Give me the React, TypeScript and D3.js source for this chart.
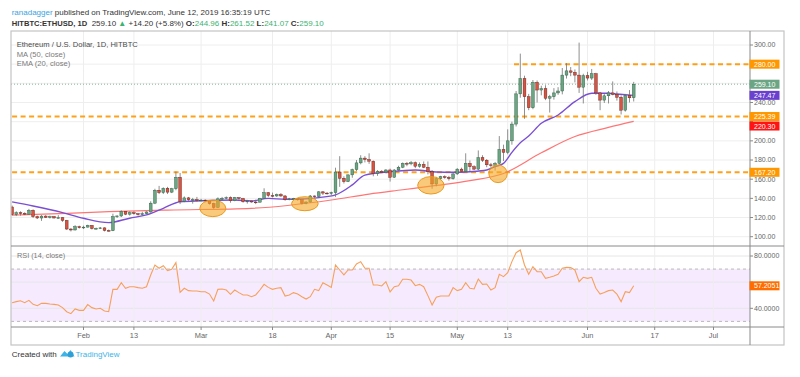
import React from "react";
import * as d3 from "d3";

// ---------- DATA ----------
const START_DATE = "2019-01-15";

const opens = [
  131, 123, 125, 124.5, 123.5, 127.5, 121, 119.5, 121.5, 120,
  121, 119.5, 119.8, 117, 108, 107, 110.5, 109.3, 110, 111.8,
  108.5, 108.7, 109.2, 106.5, 106.2, 121, 121.6, 126.5, 123.5, 125,
  124, 123, 124, 125.8, 135, 148.5, 146, 150.5, 146.5, 150,
  162, 137, 140.5, 138.5, 138.8, 137.5, 138.2, 137.6, 134.5, 130.5,
  139.5, 140, 140.8, 137.5, 140.8, 139.8, 136.5, 137.2, 136.2, 136,
  140, 146, 143, 142.5, 144, 142.5, 138.8, 139.5, 139.8, 138.5,
  135, 136.2, 142.5, 141.8, 146.8, 145.5, 145.2, 146, 167.5, 161,
  157.5, 164.5, 170, 177, 182, 180.5, 178.8, 166, 168, 167.5,
  169.6, 162, 169.6, 172.5, 176.5, 176, 177.2, 173.5, 175.5, 172.5,
  167.8, 155, 160.5, 162.5, 162, 160.5, 165.5, 170.5, 168, 176.5,
  173, 170.5, 182.5, 179.8, 175, 174.5, 176.5, 191, 188, 200,
  217.5, 249, 265, 246, 234.5, 261, 253, 254.5, 244.5, 246,
  250, 252, 268.6, 273, 271.5, 268.6, 256, 268, 265.5, 270,
  250, 242.5, 247, 250, 248.5, 245.5, 232, 247.5, 244.96,
];
const highs = [
  132.5, 126.5, 126.5, 125.5, 129, 128.5, 122, 122.5, 122.5, 122,
  121.5, 122.5, 120.5, 117.5, 109, 112, 111.5, 111.5, 112.5, 112,
  109.5, 110, 109.8, 107.5, 124, 122.5, 127.5, 126.8, 126.5, 126.5,
  124.8, 126, 126.5, 137, 150, 153, 151.5, 152, 151, 168,
  166.5, 142, 141.5, 140.5, 141.5, 139.5, 138.8, 138, 135.5, 141,
  141.5, 142, 142, 141.5, 141, 140.5, 138.5, 137.8, 138.5, 140.5,
  150.5, 146.5, 146, 145, 145.5, 143.5, 140.5, 140.5, 140, 139,
  137, 143.5, 143, 147.5, 147.5, 146.5, 147, 172, 184, 163,
  165, 171, 180, 185, 184, 187, 179.5, 169.5, 169.5, 170.5,
  171, 170.5, 174, 177.5, 178, 179, 178.5, 177.5, 178.5, 178.5,
  169.6, 162.5, 163.5, 164, 163.5, 166.5, 171.5, 172, 187, 179.5,
  174.5, 190, 185, 181, 177, 178, 205, 196, 212, 220,
  252, 291, 268, 249, 263.5, 263, 257.5, 258, 248, 255,
  256, 276, 281, 277, 274.5, 302.5, 270, 272, 275, 271,
  251, 249, 252, 262, 251.5, 247.5, 249, 253, 261.52,
];
const lows = [
  122, 121.5, 122, 122.5, 123, 119.5, 118.5, 116.5, 119.5, 119,
  119, 119, 115.5, 107, 105.5, 106.5, 108.5, 108, 109.5, 107.5,
  107.5, 108, 105.5, 105.5, 105.8, 119.5, 120.5, 122.5, 122, 123,
  122, 122.5, 123.5, 125, 134, 144.5, 144.5, 144.5, 145.5, 148.5,
  134, 136, 137, 134.5, 136.5, 137, 136, 133.5, 129, 130,
  137.5, 139, 135.5, 137, 138.5, 135.5, 134.5, 135.5, 134, 135.8,
  139.5, 141.5, 141, 141.5, 141.5, 137.5, 138, 138.5, 137.5, 133.5,
  133.8, 135.5, 140.5, 141, 143.5, 144, 143.5, 141.5, 152, 155.5,
  157, 161.5, 168.5, 175.5, 177.5, 176, 163, 163.5, 166.5, 166,
  157.5, 161.5, 168.5, 171.5, 173.5, 174.5, 171.5, 172, 171.5, 165,
  150, 152.5, 159, 160.5, 158.5, 159.5, 164.5, 167, 167.5, 168.5,
  169.5, 169.5, 178, 172.5, 172, 169, 175.5, 179, 186, 196,
  215, 245, 223, 232, 233, 240, 247.5, 242.5, 229.5, 243,
  248, 248.5, 265, 267.5, 261, 250, 239, 263, 263.5, 248,
  232, 239.5, 239, 247.5, 242, 227.5, 230.5, 240, 241.07,
];
const closes = [
  123, 125, 124.5, 123.5, 127.5, 121, 119.5, 121.5, 120, 121,
  119.5, 119.8, 117, 108, 107, 110.5, 109.3, 110, 111.8, 108.5,
  108.7, 109.2, 106.5, 106.2, 121, 121.6, 126.5, 123.5, 125, 124,
  123, 124, 125.8, 135, 148.5, 146, 150.5, 146.5, 150, 162,
  137, 140.5, 138.5, 138.8, 137.5, 138.2, 137.6, 134.5, 130.5, 139.5,
  140, 140.8, 137.5, 140.8, 139.8, 136.5, 137.2, 136.2, 136, 140,
  146, 143, 142.5, 144, 142.5, 138.8, 139.5, 139.8, 138.5, 135,
  136.2, 142.5, 141.8, 146.8, 145.5, 145.2, 146, 167.5, 161, 157.5,
  164.5, 170, 177, 182, 180.5, 178.8, 166, 168, 167.5, 169.6,
  162, 169.6, 172.5, 176.5, 176, 177.2, 173.5, 175.5, 172.5, 167.8,
  155, 160.5, 162.5, 162, 160.5, 165.5, 170.5, 168, 176.5, 173,
  170.5, 182.5, 179.8, 175, 174.5, 176.5, 191, 188, 200, 217.5,
  249, 265, 246, 234.5, 261, 253, 254.5, 244.5, 246, 250,
  252, 268.6, 273, 271.5, 268.6, 256, 268, 265.5, 270, 250,
  242.5, 247, 250, 248.5, 245.5, 232, 247.5, 244.9, 259.1,
];
const rsiValues = [
  44.3, 45.1, 45.8, 44.3, 46.1, 43.0, 42.0, 43.8, 43.8, 43.3,
  43.0, 42.5, 40.5, 37.4, 35.9, 39.5, 38.4, 38.4, 42.8, 40.5,
  39.5, 40.0, 37.9, 37.4, 54.5, 54.5, 59.6, 55.3, 56.5, 56.5,
  55.8, 55.3, 56.5, 65.5, 73.1, 70.6, 72.6, 68.8, 69.8, 74.9,
  52.2, 55.3, 53.5, 53.2, 53.2, 52.7, 52.7, 50.9, 45.6, 54.5,
  54.8, 54.0, 50.7, 54.0, 52.0, 50.2, 50.2, 48.9, 50.2, 54.0,
  58.3, 56.0, 54.5, 55.3, 55.8, 49.4, 50.2, 52.0, 50.9, 48.9,
  47.1, 48.9, 54.5, 53.5, 59.6, 57.8, 56.0, 73.1, 69.3, 65.5,
  69.3, 69.3, 73.9, 75.7, 70.6, 70.6, 57.8, 57.8, 57.1, 60.4,
  52.5, 56.5, 57.3, 62.2, 62.2, 61.6, 57.3, 58.3, 56.5, 49.7,
  42.5, 48.4, 49.4, 49.4, 49.4, 55.8, 53.5, 54.5, 59.6, 55.3,
  54.8, 62.4, 58.3, 58.6, 54.0, 55.8, 66.0, 64.2, 67.3, 75.7,
  82.5, 84.6, 73.1, 66.0, 71.8, 68.0, 68.0, 62.9, 63.7, 64.7,
  66.0, 70.6, 71.3, 71.1, 69.3, 60.4, 63.7, 62.9, 63.7, 55.3,
  50.9, 52.0, 53.5, 54.0, 50.9, 45.1, 52.7, 52.0, 57.2051,
];

// EMA (20)
const emaDates = [
  "2019-01-15", "2019-01-20", "2019-01-27", "2019-02-01", "2019-02-07", "2019-02-12",
  "2019-02-16", "2019-02-20", "2019-02-24", "2019-03-01", "2019-03-09", "2019-03-13",
  "2019-03-17", "2019-03-21", "2019-03-25", "2019-03-29", "2019-04-02", "2019-04-06",
  "2019-04-09", "2019-04-15", "2019-04-21", "2019-04-26", "2019-04-30", "2019-05-04",
  "2019-05-08", "2019-05-10", "2019-05-12", "2019-05-14", "2019-05-16", "2019-05-18",
  "2019-05-21", "2019-05-25", "2019-05-29", "2019-06-02", "2019-06-06", "2019-06-08",
  "2019-06-12",
];
const emaValues = [
  136.3, 132.0, 125.1, 119.2, 114.7, 119.3,
  122.7, 129.6, 136.5, 137.5, 138.3, 137.3,
  140.0, 139.0, 139.3, 140.8, 143.6, 154.0,
  164.3, 167.8, 169.6, 167.5, 167.2, 167.8,
  169.6, 173.1, 176.5, 188.0, 198.0, 205.0,
  218.3, 227.0, 240.9, 249.6, 249.6, 248.9,
  247.47,
];
// MA (50)
const maDates = [
  "2019-01-15", "2019-01-28", "2019-02-07", "2019-02-21", "2019-03-13", "2019-04-01",
  "2019-04-10", "2019-04-18", "2019-04-26", "2019-05-04", "2019-05-12", "2019-05-21",
  "2019-05-29", "2019-06-06", "2019-06-12",
];
const maValues = [
  122.5, 124.4, 126.1, 127.8, 129.6, 138.3,
  144.5, 149.0, 153.5, 158.5, 166.0, 187.5,
  204.5, 214.0, 220.3,
];

const priceTicks = [100, 120, 140, 160, 180, 200, 220, 240, 260, 280, 300];
const rsiTicks = [40, 60, 80];
const rsiBand = [30, 70];
const timeTickDates = [
  "2019-02-01", "2019-02-13", "2019-03-01", "2019-03-18", "2019-04-01", "2019-04-15",
  "2019-05-01", "2019-05-13", "2019-06-01", "2019-06-17", "2019-07-01",
];
const timeTickLabels = ["Feb", "13", "Mar", "18", "Apr", "15", "May", "13", "Jun", "17", "Jul"];

const levelValues = [280, 225.39, 167.2];
const levelStarts = ["2019-05-14T12:00", START_DATE, START_DATE];

const highlightDates = ["2019-03-03T19:00", "2019-03-25T17:00", "2019-04-24T17:00", "2019-05-10T17:00"];
const highlightPrices = [129.6, 134.4, 153.6, 165.6];
const highlightRx = [13, 13.3, 13.2, 9.2];
const highlightRy = [8.3, 7, 8.7, 8.8];

const priceLabelValues = [280, 259.1, 247.47, 225.39, 220.3, 167.2];
const priceLabelColors = ["#ff9800", "#6ba583", "#6a40cf", "#ff9800", "#ff1414", "#ff9800"];
const lastRsi = 57.2051;

// ---------- LAYOUT ----------
const W = 800;
const H = 377;
const L = 11;
const R = 750;
const AX_R = 784;
const TOP = 31;
const SEP1 = 246;
const SEP2 = 327;
const BOT = 345;
const FONT = "'Liberation Sans', Arial, Helvetica, sans-serif";

const UP = "#6ba583";
const UP_B = "#225437";
const DN = "#d75442";
const DN_B = "#5b1a13";
const WICK = "#737375";

export default function App() {
  const parse = (s: string) => new Date(s.length > 10 ? s + ":00Z" : s + "T00:00:00Z");
  const start = parse(START_DATE);
  const dates = d3.utcDay.range(start, d3.utcDay.offset(start, closes.length));
  const pxPerDay = 4.2;
  const x = d3
    .scaleUtc()
    .domain([start, d3.utcDay.offset(start, 100)])
    .range([12.1, 12.1 + 100 * pxPerDay]);
  const y = d3.scaleLinear().domain([100, 300]).range([236.7, 45]);
  const yr = d3.scaleLinear().domain([40, 80]).range([308.3, 256]);

  const emaLine = d3
    .line<number>()
    .x((_, i) => x(parse(emaDates[i])))
    .y((v) => y(v))
    .curve(d3.curveMonotoneX);
  const maLine = d3
    .line<number>()
    .x((_, i) => x(parse(maDates[i])))
    .y((v) => y(v))
    .curve(d3.curveMonotoneX);
  const rsiLine = d3
    .line<number>()
    .x((_, i) => x(dates[i]))
    .y((v) => yr(v));

  // price labels with simple collision avoidance
  const labH = 9;
  const labs = priceLabelValues
    .map((v, i) => ({ v, c: priceLabelColors[i], yy: y(v) }))
    .sort((a, b) => a.yy - b.yy);
  for (let i = 1; i < labs.length; i++) {
    if (labs[i].yy < labs[i - 1].yy + labH + 0.5) labs[i].yy = labs[i - 1].yy + labH + 0.5;
  }
  const hiddenTick = (ty: number, centers: number[]) => centers.some((c) => Math.abs(c - ty) < 6.5);
  const labCenters = labs.map((l) => l.yy);

  const bodyW = 2.8;

  return (
    <svg
      width={W}
      height={H}
      viewBox={`0 0 ${W} ${H}`}
      style={{ position: "absolute", left: 0, top: 0, background: "#fff", fontFamily: FONT }}
    >
      <defs>
        <clipPath id="clipPrice">
          <rect x={L} y={TOP} width={R - L} height={SEP1 - TOP} />
        </clipPath>
        <clipPath id="clipRsi">
          <rect x={L} y={SEP1} width={R - L} height={SEP2 - SEP1} />
        </clipPath>
      </defs>
      <rect x={0} y={0} width={W} height={H} fill="#fff" />

      {/* header */}
      <text x={11.7} y={15.3} fontSize={8} fill="#333" style={{ whiteSpace: "pre" }}>
        <tspan fill="#3ba3e0">ranadagger</tspan>
        <tspan>{" published on TradingView.com, June 12, 2019 16:35:19 UTC"}</tspan>
      </text>
      <text x={11.7} y={26} fontSize={8} fill="#333" style={{ whiteSpace: "pre" }}>
        <tspan fontWeight="bold" fontSize={7.6}>HITBTC:ETHUSD, 1D</tspan>
        <tspan>{"  259.10 "}</tspan>
        <tspan fill="#3cb371">▲</tspan>
        <tspan>{" +14.20 (+5.8%) "}</tspan>
        <tspan fontWeight="bold">O:</tspan>
        <tspan fill="#3cb371">244.96</tspan>
        <tspan fontWeight="bold">{" H:"}</tspan>
        <tspan fill="#3cb371">261.52</tspan>
        <tspan fontWeight="bold">{" L:"}</tspan>
        <tspan fill="#3cb371">241.07</tspan>
        <tspan fontWeight="bold">{" C:"}</tspan>
        <tspan fill="#3cb371">259.10</tspan>
      </text>

      {/* grid: price */}
      <g clipPath="url(#clipPrice)">
        {priceTicks.map((t) => (
          <line key={"hg" + t} x1={L} x2={R} y1={y(t)} y2={y(t)} stroke="#eeeeee" strokeWidth={1} />
        ))}
        {timeTickDates.map((d) => (
          <line key={"vg" + d} x1={x(parse(d))} x2={x(parse(d))} y1={TOP} y2={SEP1} stroke="#eeeeee" strokeWidth={1} />
        ))}
      </g>
      {/* RSI panel */}
      <g clipPath="url(#clipRsi)">
        <rect
          x={L}
          y={yr(rsiBand[1])}
          width={R - L}
          height={yr(rsiBand[0]) - yr(rsiBand[1])}
          fill="#9915ff"
          fillOpacity={0.09}
        />
        {rsiTicks.map((t) => (
          <line key={"rg" + t} x1={L} x2={R} y1={yr(t)} y2={yr(t)} stroke="#e6e6e6" strokeWidth={1} />
        ))}
        {timeTickDates.map((d) => (
          <line key={"rvg" + d} x1={x(parse(d))} x2={x(parse(d))} y1={SEP1} y2={SEP2} stroke="#eeeeee" strokeWidth={1} />
        ))}
        {rsiBand.map((t) => (
          <line
            key={"rb" + t}
            x1={L}
            x2={R}
            y1={yr(t)}
            y2={yr(t)}
            stroke="#b8b8b8"
            strokeWidth={1}
            strokeDasharray="3 3"
          />
        ))}
        <path d={rsiLine(rsiValues) || ""} fill="none" stroke="#f7a05b" strokeWidth={1.1} />
      </g>

      {/* price panel */}
      <g clipPath="url(#clipPrice)">
        <line
          x1={L}
          x2={R}
          y1={y(closes[closes.length - 1])}
          y2={y(closes[closes.length - 1])}
          stroke="#6ba583"
          strokeWidth={1}
          strokeDasharray="1 2"
          opacity={0.8}
        />
        {levelValues.map((v, i) => (
          <line
            key={"lv" + i}
            x1={Math.max(L, x(parse(levelStarts[i])))}
            x2={R}
            y1={y(v)}
            y2={y(v)}
            stroke="#ff9800"
            strokeWidth={2}
            strokeDasharray="5 3.5"
            opacity={0.9}
          />
        ))}
        <path d={maLine(maValues) || ""} fill="none" stroke="#ff5d5d" strokeOpacity={0.85} strokeWidth={1.2} />
        <path d={emaLine(emaValues) || ""} fill="none" stroke="#7a4fd3" strokeWidth={1.4} />
        {dates.map((d, i) => {
          const o = opens[i];
          const c = closes[i];
          const up = c >= o;
          const cx = x(d);
          const top = y(Math.max(o, c));
          const bh = Math.max(0.8, Math.abs(y(o) - y(c)));
          return (
            <g key={"c" + i}>
              <line x1={cx} x2={cx} y1={y(highs[i])} y2={y(lows[i])} stroke={WICK} strokeWidth={0.8} />
              <rect
                x={cx - bodyW / 2}
                y={top}
                width={bodyW}
                height={bh}
                fill={up ? UP : DN}
                stroke={up ? UP_B : DN_B}
                strokeWidth={0.4}
              />
            </g>
          );
        })}
        {highlightDates.map((d, i) => (
          <ellipse
            key={"el" + i}
            cx={x(parse(d))}
            cy={y(highlightPrices[i])}
            rx={highlightRx[i]}
            ry={highlightRy[i]}
            fill="#f5a623"
            fillOpacity={0.6}
            stroke="#e89a1c"
            strokeWidth={1}
          />
        ))}
      </g>

      {/* legends */}
      <text x={16.7} y={46.6} fontSize={7.6} fill="#4a4a4a">
        Ethereum / U.S. Dollar, 1D, HITBTC
      </text>
      <text x={16.7} y={56.6} fontSize={7.6} fill="#7a7a7a">
        MA (50, close)
      </text>
      <text x={16.7} y={66} fontSize={7.6} fill="#7a7a7a">
        EMA (20, close)
      </text>
      <text x={17} y={258.4} fontSize={7.3} fill="#7a7a7a">
        RSI (14, close)
      </text>

      {/* frame */}
      <rect x={L} y={TOP} width={AX_R - L} height={BOT - TOP} fill="none" stroke="#c4c4c4" strokeWidth={1.2} />
      <line x1={R} x2={R} y1={TOP} y2={BOT} stroke="#8a8a8a" strokeWidth={1} />
      <line x1={L} x2={AX_R} y1={SEP1} y2={SEP1} stroke="#8a8a8a" strokeWidth={1} />
      <line x1={L} x2={AX_R} y1={SEP2} y2={SEP2} stroke="#8a8a8a" strokeWidth={1} />

      {/* price axis */}
      {priceTicks.map((t) => (
        <g key={"pt" + t}>
          <line x1={R} x2={R + 3} y1={y(t)} y2={y(t)} stroke="#8a8a8a" />
          {!hiddenTick(y(t), labCenters) && (
            <text x={R + 4} y={y(t) + 2.4} fontSize={7} fill="#666">
              {t.toFixed(2)}
            </text>
          )}
        </g>
      ))}
      {labs.map((lb, i) => (
        <g key={"pl" + i}>
          <rect x={R - 0.5} y={lb.yy - labH / 2} width={30} height={labH} fill={lb.c} />
          <text x={R + 4} y={lb.yy + 2.5} fontSize={7} fill="#fff">
            {lb.v.toFixed(2)}
          </text>
        </g>
      ))}

      {/* RSI axis */}
      {rsiTicks.map((t) => (
        <g key={"rt" + t}>
          <line x1={R} x2={R + 3} y1={yr(t)} y2={yr(t)} stroke="#8a8a8a" />
          {!hiddenTick(yr(t), [yr(lastRsi)]) && (
            <text x={R + 4} y={yr(t) + 2.4} fontSize={7} fill="#666">
              {t.toFixed(4)}
            </text>
          )}
        </g>
      ))}
      <rect x={R - 0.5} y={yr(lastRsi) - labH / 2} width={30} height={labH} fill="#ff6d00" />
      <text x={R + 4} y={yr(lastRsi) + 2.5} fontSize={7} fill="#fff">
        {lastRsi.toFixed(4)}
      </text>

      {/* time axis */}
      {timeTickDates.map((d, i) => (
        <g key={"tt" + d}>
          <line x1={x(parse(d))} x2={x(parse(d))} y1={SEP2} y2={SEP2 + 3} stroke="#8a8a8a" />
          <text x={x(parse(d))} y={338.2} fontSize={7.4} fill="#666" textAnchor="middle">
            {timeTickLabels[i]}
          </text>
        </g>
      ))}

      {/* footer */}
      <text x={11.8} y={357} fontSize={8} fill="#333">
        Created with
      </text>
      <g transform="translate(60,349.5)">
        <path d="M0,7 L4.5,1.5 L7.5,4.5 L10.5,0.5 L14.5,7 Z" fill="#3cb4e6" />
        <circle cx={10.5} cy={5} r={3} fill="#2ea0d8" />
      </g>
      <text x={75.5} y={357} fontSize={8} fill="#3cb4e6">
        TradingView
      </text>
    </svg>
  );
}
